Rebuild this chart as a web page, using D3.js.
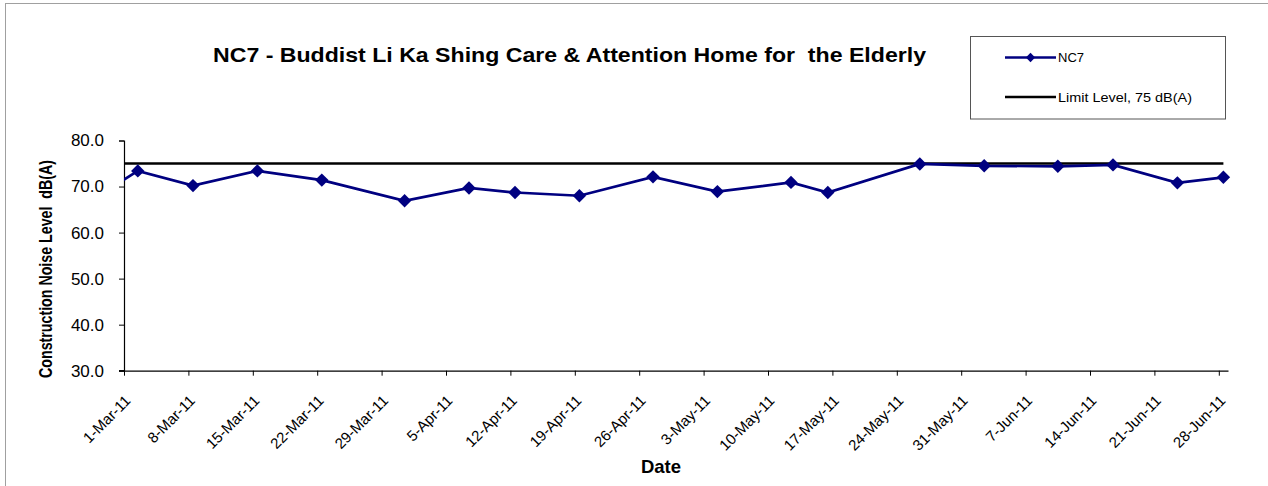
<!DOCTYPE html>
<html>
<head>
<meta charset="utf-8">
<script src="https://cdn.jsdelivr.net/npm/d3@7/dist/d3.min.js"></script>
<style>
  body { margin: 0; background: #fff; }
  svg { display: block; font-family: "Liberation Sans", Arial, sans-serif; }
</style>
</head>
<body>
<svg id="chart" width="1268" height="486"></svg>
<script>
// data
const sampleDates = ["2011-02-23", "2011-03-02", "2011-03-08", "2011-03-15", "2011-03-22", "2011-03-31",
  "2011-04-07", "2011-04-12", "2011-04-19", "2011-04-27", "2011-05-04", "2011-05-12",
  "2011-05-16", "2011-05-26", "2011-06-02", "2011-06-10", "2011-06-16", "2011-06-23", "2011-06-28"];
const nc7Values = [64.5, 73.4, 70.2, 73.4, 71.4, 66.9,
  69.7, 68.7, 68.0, 72.1, 68.9, 70.9,
  68.7, 74.9, 74.5, 74.4, 74.7, 70.8, 72.0];
const limitDates = ["2011-02-23", "2011-06-28"];
const limitValues = [75, 75];
const tickDates = ["2011-03-01", "2011-03-08", "2011-03-15", "2011-03-22", "2011-03-29", "2011-04-05",
  "2011-04-12", "2011-04-19", "2011-04-26", "2011-05-03", "2011-05-10", "2011-05-17",
  "2011-05-24", "2011-05-31", "2011-06-07", "2011-06-14", "2011-06-21", "2011-06-28"];
const yTicks = [30, 40, 50, 60, 70, 80];

const parse = d3.utcParse("%Y-%m-%d");
const fmt = d3.utcFormat("%-d-%b-%y");

const svg = d3.select("#chart");
const margin = { top: 140.5, left: 124, right: 40, bottom: 115.3 };
const width = 1268 - margin.left - margin.right;
const height = 486 - margin.top - margin.bottom;

// outer chart border
svg.append("rect")
  .attr("x", 5.5).attr("y", 3.5)
  .attr("width", 1280).attr("height", 500)
  .attr("fill", "none").attr("stroke", "#a0a0a0");

const x = d3.scaleUtc()
  .domain([parse("2011-03-01"), parse("2011-06-29")])
  .range([0, width]);
const y = d3.scaleLinear()
  .domain([30, 80])
  .range([height, 0]);

// excel puts each day in the middle of its slot
const xMid = (d) => x(d3.utcHour.offset(d, 12));

const g = svg.append("g")
  .attr("transform", "translate(" + margin.left + "," + margin.top + ")");

g.append("clipPath").attr("id", "plotClip")
  .append("rect").attr("width", width).attr("height", height);

// Y axis
const yAxis = g.append("g")
  .call(d3.axisLeft(y).tickValues(yTicks).tickSize(5).tickPadding(15).tickFormat(d3.format(".1f")));
yAxis.select(".domain").attr("stroke", "#000").attr("stroke-width", 1.2);
yAxis.selectAll(".tick line").attr("stroke", "#000");
yAxis.selectAll(".tick text")
  .attr("font-size", 17).attr("fill", "#000")
  .attr("font-family", "Liberation Sans, Arial, sans-serif");

// X axis
const xAxis = g.append("g")
  .attr("transform", "translate(0," + height + ")")
  .call(d3.axisBottom(x).tickValues(tickDates.map(parse)).tickSize(5).tickSizeOuter(0).tickFormat(fmt));
xAxis.select(".domain").attr("stroke", "#000").attr("stroke-width", 1.2);
xAxis.selectAll(".tick line").attr("stroke", "#000");
xAxis.selectAll(".tick text")
  .attr("font-size", 15).attr("fill", "#000")
  .attr("font-family", "Liberation Sans, Arial, sans-serif")
  .attr("text-anchor", "end")
  .attr("dy", null)
  .attr("y", 0)
  .attr("transform", "translate(7,31) rotate(-45)");
// extend the x axis line left over the y tick
g.append("line")
  .attr("x1", -5).attr("x2", 0)
  .attr("y1", height).attr("y2", height)
  .attr("stroke", "#000").attr("stroke-width", 1.2);

// limit line
const limitData = limitDates.map((d, i) => [parse(d), limitValues[i]]);
g.append("path")
  .datum(limitData)
  .attr("clip-path", "url(#plotClip)")
  .attr("fill", "none")
  .attr("stroke", "#000")
  .attr("stroke-width", 2.7)
  .attr("d", d3.line().x(d => xMid(d[0])).y(d => y(d[1])));

// NC7 series
const nc7Data = sampleDates.map((d, i) => [parse(d), nc7Values[i]]);
g.append("path")
  .datum(nc7Data)
  .attr("clip-path", "url(#plotClip)")
  .attr("fill", "none")
  .attr("stroke", "#000080")
  .attr("stroke-width", 2.7)
  .attr("d", d3.line().x(d => xMid(d[0])).y(d => y(d[1])));

const diamond = d3.symbol().type(d3.symbolDiamond2).size(115);
g.append("g")
  .selectAll("path")
  .data(nc7Data.filter(d => d[0] >= x.domain()[0]))
  .enter().append("path")
  .attr("d", diamond)
  .attr("transform", d => "translate(" + xMid(d[0]) + "," + y(d[1]) + ")")
  .attr("fill", "#000080");

// Title and axis titles
svg.append("text")
  .attr("x", 213).attr("y", 62)
  .attr("font-size", 21).attr("font-weight", "bold")
  .attr("textLength", 713).attr("lengthAdjust", "spacingAndGlyphs")
  .attr("xml:space", "preserve")
  .text("NC7 - Buddist Li Ka Shing Care & Attention Home for  the Elderly");

svg.append("text")
  .attr("transform", "translate(52,269) rotate(-90)")
  .attr("text-anchor", "middle")
  .attr("font-size", 18).attr("font-weight", "bold")
  .attr("textLength", 218).attr("lengthAdjust", "spacingAndGlyphs")
  .attr("xml:space", "preserve")
  .text("Construction Noise Level  dB(A)");

svg.append("text")
  .attr("x", 661).attr("y", 473)
  .attr("text-anchor", "middle")
  .attr("font-size", 18.5).attr("font-weight", "bold")
  .text("Date");

// Legend
const legend = svg.append("g");
legend.append("rect")
  .attr("x", 970.5).attr("y", 36.5)
  .attr("width", 255).attr("height", 82.5)
  .attr("fill", "#fff").attr("stroke", "#555");
legend.append("line")
  .attr("x1", 1005).attr("x2", 1056).attr("y1", 57.5).attr("y2", 57.5)
  .attr("stroke", "#000080").attr("stroke-width", 2.5);
legend.append("path")
  .attr("d", d3.symbol().type(d3.symbolDiamond2).size(55))
  .attr("transform", "translate(1030.5,57.5)")
  .attr("fill", "#000080");
legend.append("text")
  .attr("x", 1058).attr("y", 62)
  .attr("font-size", 13).text("NC7");
legend.append("line")
  .attr("x1", 1005).attr("x2", 1056).attr("y1", 97).attr("y2", 97)
  .attr("stroke", "#000").attr("stroke-width", 2.5);
legend.append("text")
  .attr("x", 1058).attr("y", 101.5)
  .attr("font-size", 13)
  .attr("textLength", 134).attr("lengthAdjust", "spacingAndGlyphs")
  .text("Limit Level, 75 dB(A)");
</script>
</body>
</html>
